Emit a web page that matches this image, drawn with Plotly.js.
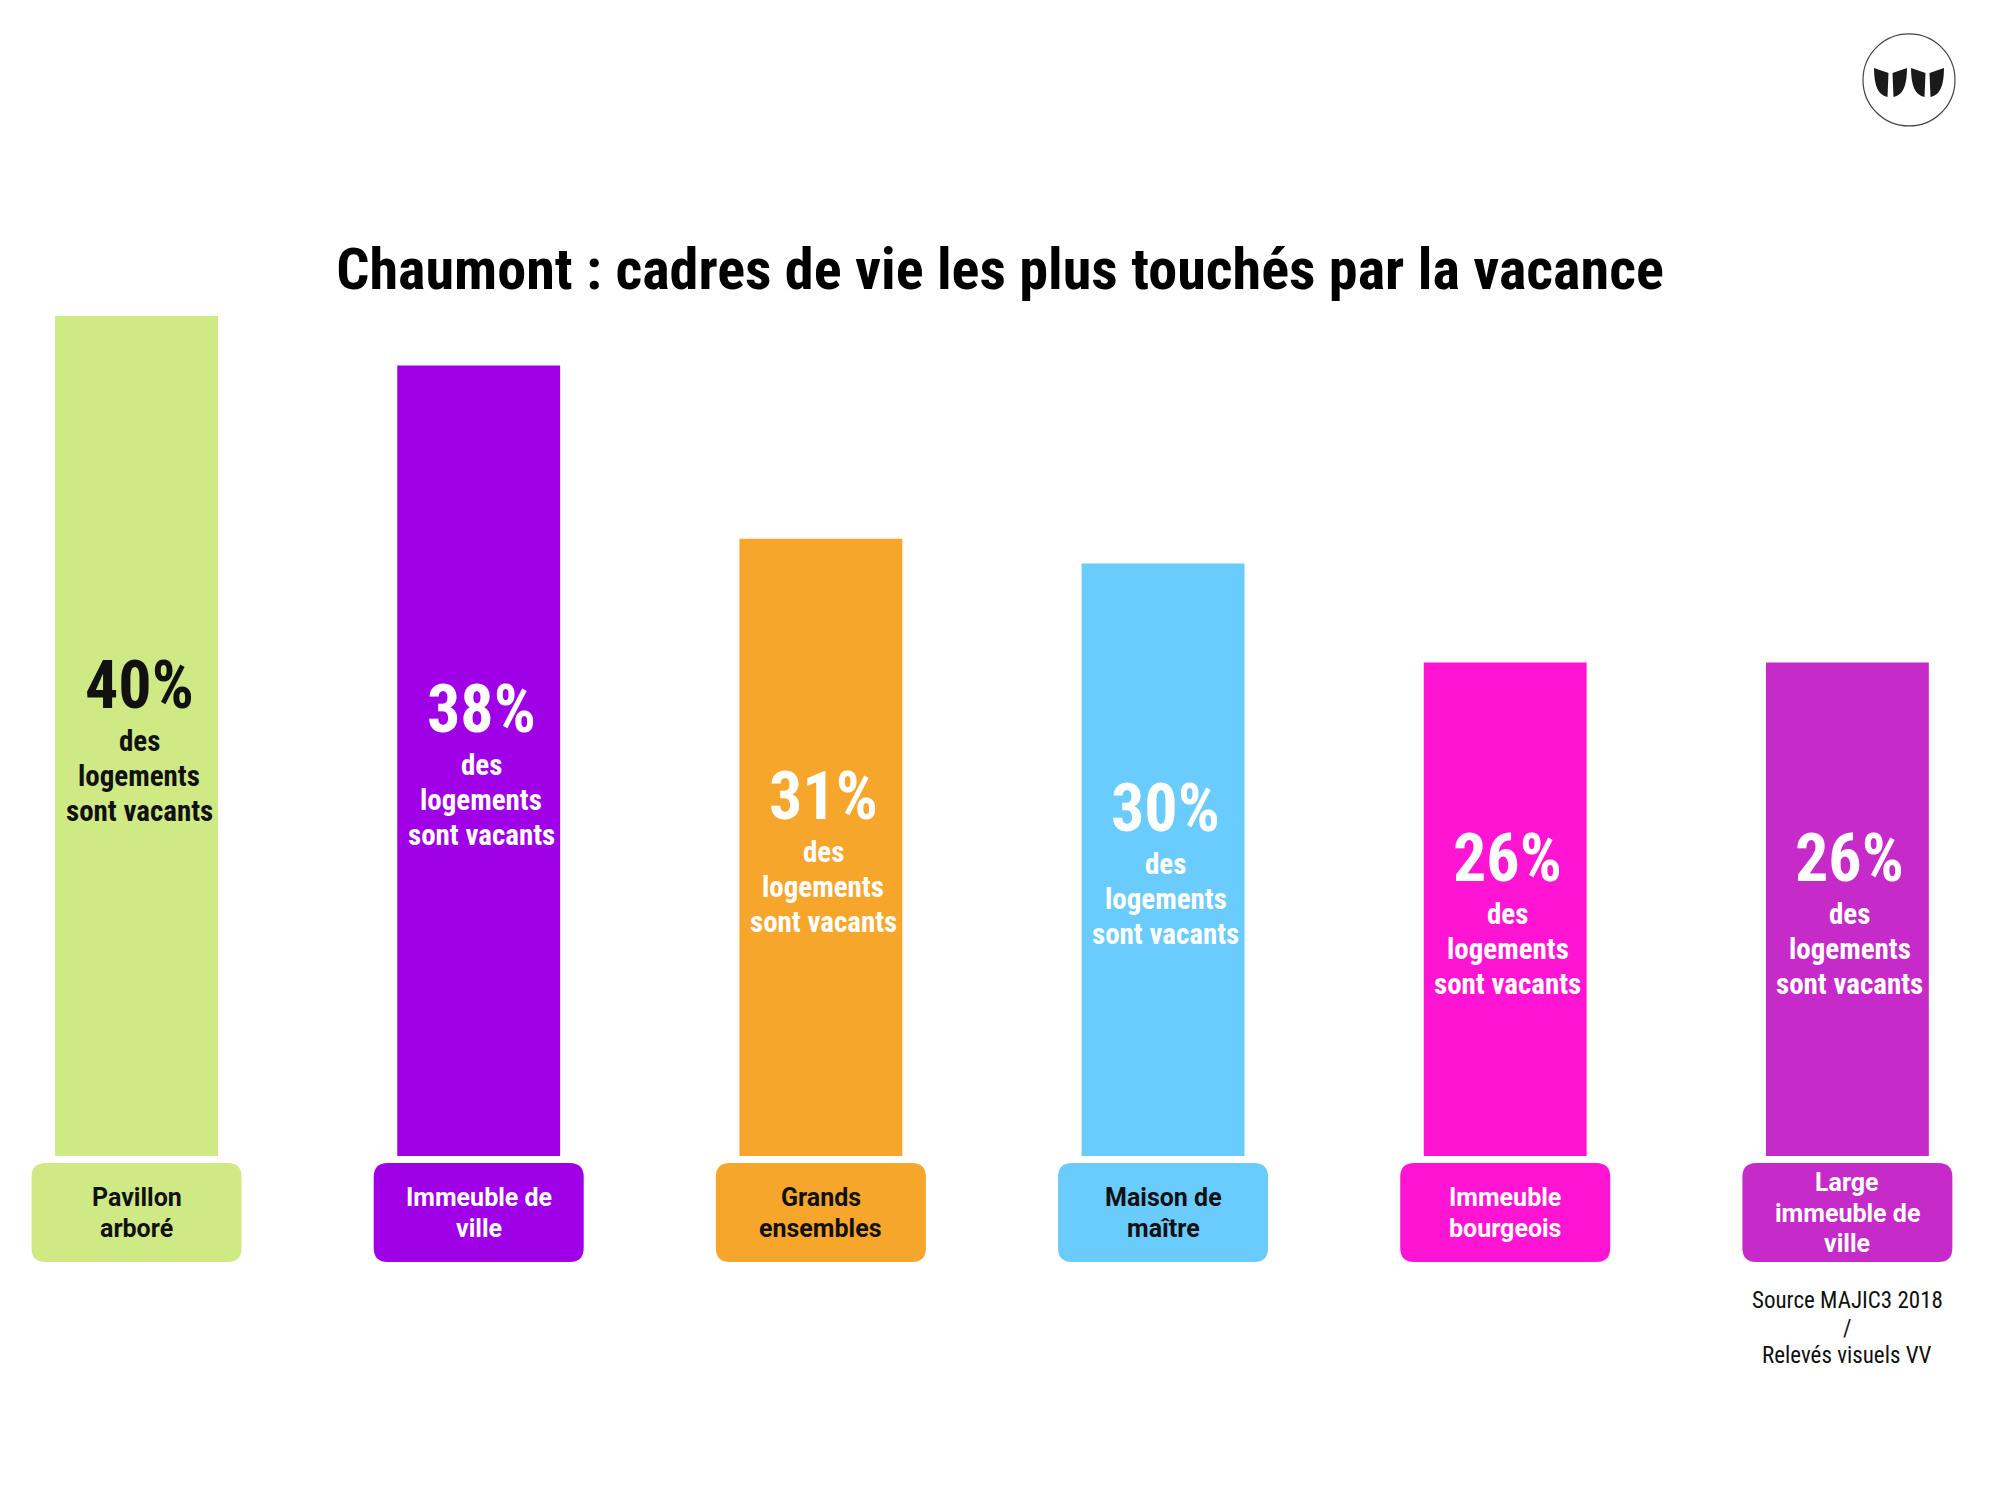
<!DOCTYPE html>
<html>
<head>
<meta charset="utf-8">
<script src="https://cdn.plot.ly/plotly-3.0.1.min.js"></script>
<style>html,body{margin:0;padding:0;background:#fff;}</style>
</head>
<body>
<div id="chart" style="width:2000px;height:1500px;"></div>
<script>
// ---- data ----
const categories = ["Pavillon arboré", "Immeuble de ville", "Grands ensembles", "Maison de maître", "Immeuble bourgeois", "Large immeuble de ville"];
const categoryLabels = ["Pavillon<br>arboré", "Immeuble de<br>ville", "Grands<br>ensembles", "Maison de<br>maître", "Immeuble<br>bourgeois", "Large<br>immeuble de<br>ville"];
const vacancyPct = [40, 38, 31, 30, 26, 26];
const barColors = ["#CFE985", "#A000E5", "#F5A62B", "#6ACBFD", "#FF14D4", "#C62AC9"];
const barTextColors = ["#111111", "#FFFFFF", "#FFFFFF", "#FFFFFF", "#FFFFFF", "#FFFFFF"];
const boxTextColors = ["#111111", "#FFFFFF", "#111111", "#111111", "#FFFFFF", "#FFFFFF"];
const descText = "des<br>logements<br>sont vacants";
const titleText = "Chaumont : cadres de vie les plus touchés par la vacance";
const sourceText = "Source MAJIC3 2018<br>/<br>Relevés visuels VV";

// ---- styles ----
const COND = "'Roboto Condensed', 'Liberation Sans Narrow', 'DejaVu Sans Condensed', Roboto, sans-serif";
const ROBOTO = "Roboto, 'Open Sans', sans-serif";
const yRange = [6.06, 40];
const xIdx = categories.map((c, i) => i);

const trace = {
  type: "bar",
  x: xIdx,
  y: vacancyPct,
  width: 0.476,
  marker: { color: barColors, line: { width: 0 } },
  hoverinfo: "none",
  text: categories,
  textposition: "none"
};

function roundRect(W, yt, yb, r) {
  return `M ${-W + r},${yt} L ${W - r},${yt} Q ${W},${yt} ${W},${yt - r} L ${W},${yb + r} Q ${W},${yb} ${W - r},${yb} ` +
         `L ${-W + r},${yb} Q ${-W},${yb} ${-W},${yb + r} L ${-W},${yt - r} Q ${-W},${yt} ${-W + r},${yt} Z`;
}

const shapes = [];
const annotations = [];

// multi-line text as one annotation per line, for exact line spacing
function addLines(text, x, xref, y, yref, centerShift, spacing, font, bold, xshift) {
  const lines = text.split("<br>");
  const n = lines.length;
  lines.forEach((ln, j) => {
    annotations.push({
      x: x, y: y, xref: xref, yref: yref, showarrow: false,
      yshift: centerShift - (j - (n - 1) / 2) * spacing,
      xshift: xshift || 0,
      text: bold ? `<b>${ln}</b>` : ln,
      xanchor: "center", yanchor: "middle", font: font
    });
  });
}

xIdx.forEach((i) => {
  const v = vacancyPct[i];
  const mid = (yRange[0] + v) / 2;
  annotations.push({
    x: i, y: mid, xref: "x", yref: "y", yshift: 51, xshift: 2.5, showarrow: false,
    text: `<b>${v}%</b>`, xanchor: "center", yanchor: "middle",
    font: { family: COND, size: 66, color: barTextColors[i] }
  });
  addLines(descText, i, "x", mid, "y", -39.5, 35, { family: COND, size: 29, color: barTextColors[i] }, true, 2.5);
  shapes.push({
    type: "path", xref: "x", yref: "paper", xsizemode: "pixel", ysizemode: "pixel",
    xanchor: i, yanchor: 0,
    path: roundRect(105, -7, -106, 14),
    fillcolor: barColors[i], line: { width: 0 }, layer: "above"
  });
  addLines(categoryLabels[i], i, "x", 0, "paper", -57, 30.6, { family: ROBOTO, size: 25, color: boxTextColors[i] }, true, 0);
});

addLines(sourceText, xIdx[xIdx.length - 1], "x", 0, "paper", -172, 27.5, { family: COND, size: 23, color: "#111111" }, false, 0);

// logo
const LX = 0.9545, LY = 1.281;
shapes.push({
  type: "circle", xref: "paper", yref: "paper", xsizemode: "pixel", ysizemode: "pixel",
  xanchor: LX, yanchor: LY, x0: -46, x1: 46, y0: -46, y1: 46,
  line: { color: "#444444", width: 1.2 }, fillcolor: "rgba(0,0,0,0)"
});
// leaf with pointed outer-top corner on the left
function leafA(x0, x1, top, bot) {
  return `M ${x0},${top} L ${x1},${top - 5} L ${x1 - 1},${bot} Q ${x0},${bot + 2} ${x0},${top} Z`;
}
// leaf with pointed outer-top corner on the right
function leafB(x0, x1, top, bot) {
  return `M ${x0 + 1},${bot} L ${x0},${top - 5} L ${x1},${top} Q ${x1},${bot + 2} ${x0 + 1},${bot} Z`;
}
[[-35, -20.5, "A"], [-16.5, -2, "B"], [2, 16.5, "A"], [20.5, 35, "B"]].forEach(([a, b, t]) => {
  shapes.push({
    type: "path", xref: "paper", yref: "paper", xsizemode: "pixel", ysizemode: "pixel",
    xanchor: LX, yanchor: LY,
    path: t === "A" ? leafA(a, b, 12, -17) : leafB(a, b, 12, -17),
    fillcolor: "#1a1a1a", line: { width: 0 }
  });
});

const layout = {
  width: 2000, height: 1500,
  margin: { l: 0, r: 0, t: 316, b: 344, pad: 0 },
  paper_bgcolor: "#FFFFFF", plot_bgcolor: "#FFFFFF",
  showlegend: false,
  title: {
    text: `<b>${titleText}</b>`, x: 0.5, xanchor: "center", xref: "paper",
    y: 0.821, yanchor: "middle", yref: "container",
    font: { family: COND, size: 58.2, color: "#000000" }
  },
  xaxis: { range: [-0.399, 5.446], visible: false, fixedrange: true },
  yaxis: { range: yRange, visible: false, fixedrange: true },
  shapes: shapes,
  annotations: annotations
};

Plotly.newPlot("chart", [trace], layout, { displayModeBar: false, staticPlot: true });
</script>
</body>
</html>
